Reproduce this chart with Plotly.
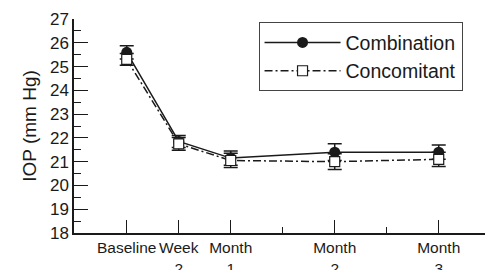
import plotly.graph_objects as go

x_pos = [0, 0.5, 1, 2, 3]
tick_labels = ["Baseline", "Week<br>2", "Month<br>1", "Month<br>2", "Month<br>3"]
combination = [25.6, 21.85, 21.15, 21.4, 21.4]
combination_err = [0.28, 0.25, 0.3, 0.35, 0.3]
concomitant = [25.3, 21.75, 21.05, 21.0, 21.1]
concomitant_err = [0.25, 0.27, 0.3, 0.33, 0.3]

ink = "#1a1a1a"
fig = go.Figure()
fig.add_trace(go.Scatter(
    x=x_pos, y=combination, name="Combination", mode="lines+markers",
    line=dict(color=ink, width=1.5),
    marker=dict(symbol="circle", size=11, color=ink),
    error_y=dict(type="data", array=combination_err, color=ink, thickness=1.5, width=7),
))
fig.add_trace(go.Scatter(
    x=x_pos, y=concomitant, name="Concomitant", mode="lines+markers",
    line=dict(color=ink, width=1.5, dash="8px,3px,2px,3px"),
    marker=dict(symbol="square", size=10, color="white", line=dict(color=ink, width=1.2)),
    error_y=dict(type="data", array=concomitant_err, color=ink, thickness=1.5, width=7),
))

fig.update_layout(
    width=485, height=270,
    margin=dict(l=74, r=0, t=19, b=37),
    paper_bgcolor="white", plot_bgcolor="white",
    font=dict(family="Liberation Sans, Arial, sans-serif", color=ink, size=15),
    showlegend=True,
    legend=dict(
        x=0.449, y=0.985, xanchor="left", yanchor="top",
        bordercolor="#444", borderwidth=1, bgcolor="white",
        font=dict(size=19.5), traceorder="normal", itemwidth=76,
        tracegroupgap=0,
    ),
    xaxis=dict(
        range=[-0.507, 3.445], showgrid=False, zeroline=False, automargin=False,
        showline=True, linecolor=ink, linewidth=1.5,
        tickmode="array", tickvals=x_pos, ticktext=tick_labels, tickangle=0,
        ticks="inside", ticklen=13, tickwidth=1.2, tickcolor=ink,
        tickfont=dict(size=15.5),
        minor=dict(tickmode="array", tickvals=[1.5, 2.5], ticks="inside",
                   ticklen=6, tickwidth=1.2, tickcolor=ink),
    ),
    yaxis=dict(
        range=[18, 27], showgrid=False, zeroline=False, automargin=False,
        showline=True, linecolor=ink, linewidth=1.5,
        tickmode="linear", tick0=18, dtick=1,
        ticks="inside", ticklen=14, tickwidth=1.2, tickcolor=ink,
        tickfont=dict(size=17),
        minor=dict(tickmode="linear", tick0=18.5, dtick=1, ticks="inside",
                   ticklen=7, tickwidth=1.2, tickcolor=ink),
        title=dict(text="IOP (mm Hg)", font=dict(size=19), standoff=8),
    ),
)
fig.write_html("out.html", config={"displayModeBar": False},
               post_script="document.body.style.margin='0px';")
